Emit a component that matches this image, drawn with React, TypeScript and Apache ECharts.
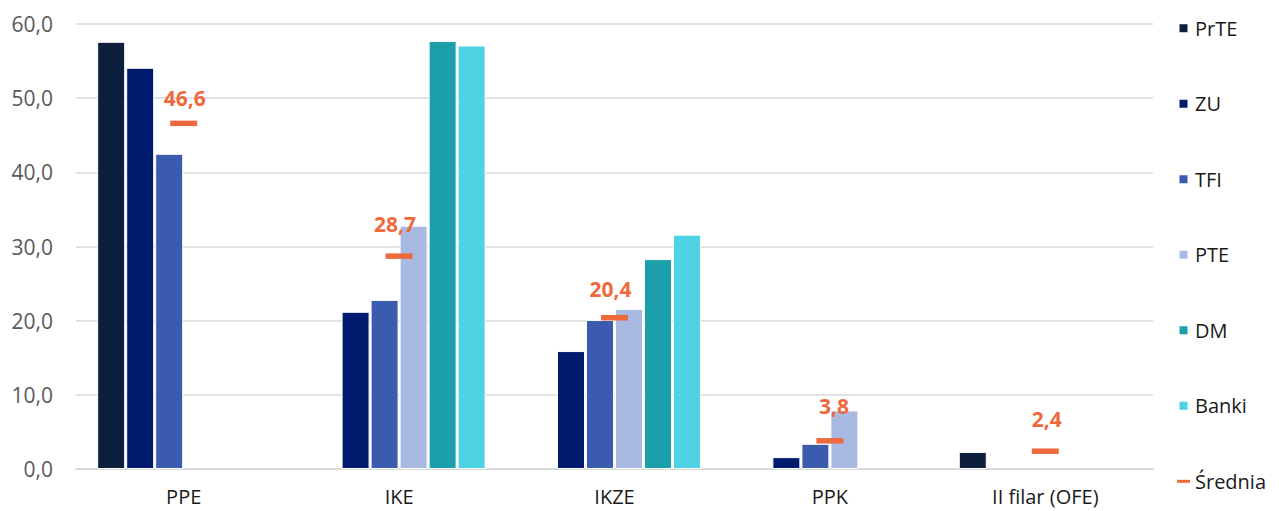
import React, { useEffect, useRef } from "react";
import * as echarts from "echarts";

const categories = ["PPE", "IKE", "IKZE", "PPK", "II filar (OFE)"];
const seriesNames = ["PrTE", "ZU", "TFI", "PTE", "DM", "Banki"];
const prte = [57.6, null, null, null, 2.3];
const zu = [54.1, 21.2, 15.9, 1.6, null];
const tfi = [42.5, 22.8, 20.1, 3.4, null];
const pte = [null, 32.8, 21.6, 7.9, null];
const dm = [null, 57.7, 28.3, null, null];
const banki = [null, 57.1, 31.6, null, null];
const srednia = [46.6, 28.7, 20.4, 3.8, 2.4];
const yTicks = { min: 0, max: 60, interval: 10 };

// label nudges (px) for the average labels, as placed in the original
const labelNudge: [number, number][] = [[1, 0], [-4, -7], [-4, -3], [4, -10], [1.5, -7]];

const colors = ["#0E1F3D", "#001A6E", "#3A5BAE", "#A8B9E2", "#1A9FAB", "#4DD3E3"];
const orange = "#EE6A3C";
const FONT = "'Open Sans', sans-serif";

const fmt = (v: number) => v.toFixed(1).replace(".", ",");

export default function App() {
  const ref = useRef<HTMLDivElement>(null);
  useEffect(() => {
    if (!ref.current) return;
    const chart = echarts.init(ref.current, undefined, { renderer: "svg" });
    const barData = [prte, zu, tfi, pte, dm, banki];
    const squareIcon = "path://M0,0L10,0L10,10L0,10Z";
    chart.setOption({
      animation: false,
      textStyle: { fontFamily: FONT },
      grid: { left: 76, right: 126, top: 24, bottom: 42, containLabel: false },
      legend: {
        orient: "vertical",
        left: 1177,
        top: 18.3,
        padding: 0,
        itemWidth: 13,
        itemHeight: 10,
        itemGap: 55.5,
        itemTextGap: 5,
        symbolKeepAspect: true,
        textStyle: { fontFamily: FONT, fontSize: 20, color: "#1a1a1a", lineHeight: 20 },
        data: [
          ...seriesNames.map((n) => ({ name: n, icon: squareIcon })),
          { name: "Średnia", icon: "path://M0,0L13,0L13,3L0,3Z" },
        ],
      },
      xAxis: {
        type: "category",
        data: categories,
        axisLine: { lineStyle: { color: "#D9D9D9", width: 2 } },
        axisTick: { show: false },
        axisLabel: { fontFamily: FONT, fontSize: 20, color: "#1a1a1a", margin: 17 },
      },
      yAxis: {
        type: "value",
        min: yTicks.min,
        max: yTicks.max,
        interval: yTicks.interval,
        axisLine: { show: false },
        axisTick: { show: false },
        splitLine: { lineStyle: { color: "#D9D9D9", width: 1.5 } },
        axisLabel: {
          fontFamily: FONT,
          fontSize: 21,
          color: "#595959",
          margin: 23,
          formatter: (v: number) => fmt(v),
        },
      },
      series: [
        ...seriesNames.map((n, i) => ({
          name: n,
          type: "bar",
          data: barData[i],
          barWidth: 28,
          barGap: "3.6%",
          itemStyle: { color: colors[i], borderColor: "#ffffff", borderWidth: 1 },
        })),
        {
          name: "Średnia",
          type: "scatter",
          data: srednia.map((v, i) => ({ value: v, label: { offset: labelNudge[i] } })),
          symbol: "rect",
          symbolSize: [27, 5.5],
          itemStyle: { color: orange, opacity: 1 },
          z: 5,
          label: {
            show: true,
            position: "top",
            distance: 12,
            fontFamily: FONT,
            fontSize: 21,
            fontWeight: "bold",
            color: orange,
            opacity: 1,
            formatter: (p: any) => fmt(p.value),
          },
        },
      ],
    });
    return () => chart.dispose();
  }, []);
  return (
    <div
      ref={ref}
      style={{ position: "fixed", left: 0, top: 0, width: 1279, height: 511, background: "#fff" }}
    />
  );
}
